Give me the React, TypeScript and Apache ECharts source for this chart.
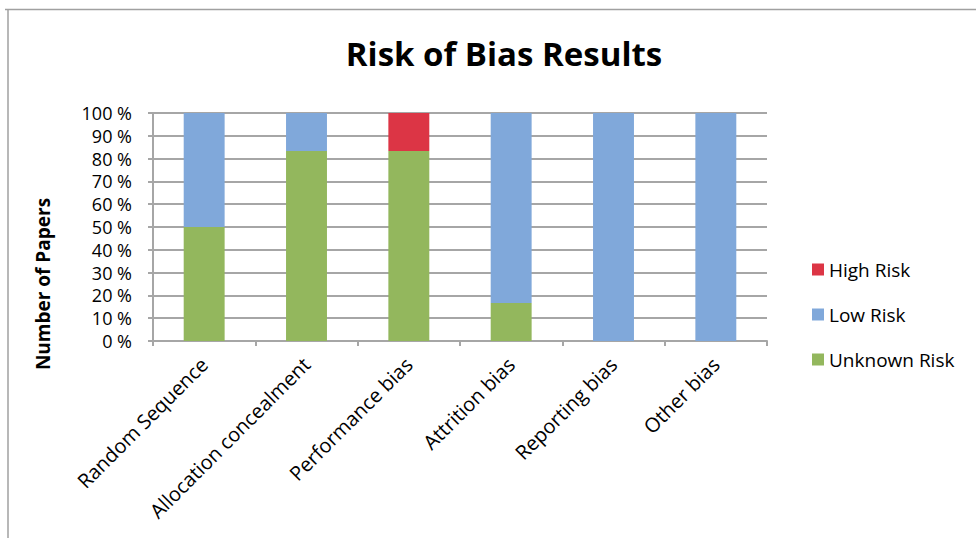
import React, { useEffect, useRef } from "react";
import * as echarts from "echarts";

const categories = [
  "Random Sequence",
  "Allocation concealment",
  "Performance bias",
  "Attrition bias",
  "Reporting bias",
  "Other bias",
];
// number of papers per category (6 papers in total)
const unknownRisk = [3, 5, 5, 1, 0, 0];
const lowRisk = [3, 1, 0, 5, 6, 6];
const highRisk = [0, 0, 1, 0, 0, 0];
const seriesNames = ["Unknown Risk", "Low Risk", "High Risk"];
const legendOrder = ["High Risk", "Low Risk", "Unknown Risk"];
const colors = ["#93B75D", "#80A8DA", "#DC3545"];

const FONT = "'Open Sans', 'Noto Sans', sans-serif";

export default function App() {
  const ref = useRef<HTMLDivElement>(null);
  useEffect(() => {
    if (!ref.current) return;
    const chart = echarts.init(ref.current, null, { renderer: "svg" });
    const totals = categories.map((_, i) => unknownRisk[i] + lowRisk[i] + highRisk[i]);
    const pct = (arr: number[]) => arr.map((v, i) => (v / totals[i]) * 100);
    const raw = [unknownRisk, lowRisk, highRisk];
    chart.setOption({
      animation: false,
      backgroundColor: "#ffffff",
      textStyle: { fontFamily: FONT },
      title: {
        text: "Risk of Bias Results",
        left: 499,
        top: 32,
        textAlign: "center",
        textStyle: { fontFamily: FONT, fontSize: 33, fontWeight: "bold", color: "#000" },
      },
      legend: {
        orient: "vertical",
        left: 807,
        top: 255,
        itemWidth: 12,
        itemHeight: 12,
        itemGap: 26,
        icon: "rect",
        data: legendOrder,
        textStyle: { fontFamily: FONT, fontSize: 19, color: "#000" },
      },
      grid: { left: 153, right: 209, top: 113, bottom: 197, containLabel: false },
      xAxis: {
        type: "category",
        data: categories,
        boundaryGap: true,
        axisLine: { lineStyle: { color: "#A6A6A6", width: 2 } },
        axisTick: { show: true, alignWithLabel: false, length: 5, lineStyle: { color: "#A6A6A6", width: 2 } },
        axisLabel: {
          rotate: 45,
          interval: 0,
          margin: 20,
          fontFamily: FONT,
          fontSize: 20,
          color: "#000",
        },
      },
      yAxis: {
        type: "value",
        min: 0,
        max: 100,
        interval: 10,
        axisLine: { show: true, lineStyle: { color: "#A6A6A6", width: 2 } },
        axisTick: { show: true, length: 5, lineStyle: { color: "#A6A6A6", width: 2 } },
        splitLine: { show: true, lineStyle: { color: "#A6A6A6", width: 2 } },
        axisLabel: {
          formatter: "{value} %",
          margin: 21,
          fontFamily: FONT,
          fontSize: 18,
          color: "#000",
        },
      },
      graphic: [
        {
          type: "line",
          shape: { x1: 5, y1: 9.5, x2: 976, y2: 9.5 },
          style: { stroke: "#A0A0A0", lineWidth: 1.5 },
        },
        {
          type: "line",
          shape: { x1: 8, y1: 9.5, x2: 8, y2: 538 },
          style: { stroke: "#A0A0A0", lineWidth: 1.5 },
        },
        {
          type: "text",
          x: 43,
          y: 284,
          rotation: Math.PI / 2,
          style: {
            text: "Number of Papers",
            fontFamily: FONT,
            fontSize: 19,
            fontWeight: "bold",
            fill: "#000",
            textAlign: "center",
            textVerticalAlign: "middle",
          },
        },
      ],
      series: seriesNames.map((name, k) => ({
        name,
        type: "bar",
        stack: "total",
        barWidth: "40%",
        itemStyle: { color: colors[k] },
        data: pct(raw[k]),
      })),
    });
    return () => chart.dispose();
  }, []);
  return (
    <div
      ref={ref}
      style={{ position: "absolute", left: 0, top: 0, width: 976, height: 538 }}
    />
  );
}
